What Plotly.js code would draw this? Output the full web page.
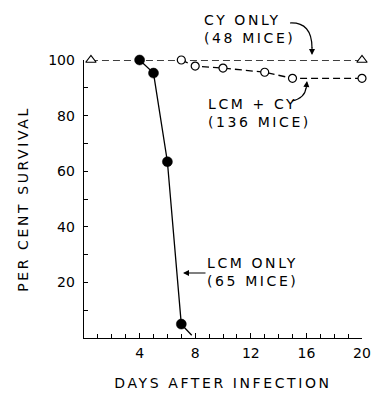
<!DOCTYPE html>
<html>
<head>
<meta charset="utf-8">
<script src="https://cdn.plot.ly/plotly-3.0.1.min.js"></script>
<style>
  html, body { margin: 0; padding: 0; background: #fff; }
  #chart { width: 373px; height: 395px; }
  .xtitle, .ytitle, .annotation-text { letter-spacing: 2.6px; }
</style>
</head>
<body>
<div id="chart"></div>
<script>
// ---- data ----
const cyOnlyDays = [0.5, 20];
const cyOnlySurvival = [100, 100];

const lcmCyDays = [7, 8, 10, 13, 15, 20];
const lcmCySurvival = [100, 97.8, 97.1, 95.6, 93.4, 93.4];

const lcmOnlyDays = [4, 5, 6, 7, 7.75];
const lcmOnlySurvival = [100, 95.3, 63.4, 5, 1];

const xTickVals = [4, 8, 12, 16, 20];
const yTickVals = [20, 40, 60, 80, 100];

const labelCy = "CY ONLY<br>(48 MICE)";
const labelLcmCy = "LCM + CY<br>(136 MICE)";
const labelLcm = "LCM ONLY<br>(65 MICE)";
const xTitle = "DAYS AFTER INFECTION";
const yTitle = "PER CENT SURVIVAL";

// ---- chart ----
const FONT = "DejaVu Sans, Arial, sans-serif";
const ink = "#000";

// paper coords helpers (plot area: left 84, right 362, top 60, bottom 338)
const L = 84, R = 362, T = 60, B = 338;
const px = v => (v - L) / (R - L);
const py = v => (B - v) / (B - T);

const traces = [
  {
    x: cyOnlyDays, y: cyOnlySurvival, type: "scatter", mode: "lines+markers",
    line: { color: ink, width: 1.3, dash: "7px,4px" },
    marker: { symbol: "triangle-up", size: 9, color: "#fff", line: { color: ink, width: 1.2 } },
    cliponaxis: false, hoverinfo: "skip"
  },
  {
    x: lcmCyDays, y: lcmCySurvival, type: "scatter", mode: "lines+markers",
    line: { color: ink, width: 1.3, dash: "7px,4px" },
    marker: { symbol: "circle", size: 8, color: "#fff", line: { color: ink, width: 1.2 } },
    cliponaxis: false, hoverinfo: "skip"
  },
  {
    x: lcmOnlyDays, y: lcmOnlySurvival, type: "scatter", mode: "lines+markers",
    line: { color: ink, width: 1.3 },
    marker: { symbol: "circle", size: [10, 10, 10, 10, 0], color: ink, opacity: 1,
              line: { color: ink, width: 0.5 } },
    cliponaxis: false, hoverinfo: "skip"
  }
];

const layout = {
  width: 373, height: 395,
  margin: { l: L, r: 373 - R, t: T, b: 395 - B, pad: 0 },
  paper_bgcolor: "#fff", plot_bgcolor: "#fff",
  showlegend: false,
  font: { family: FONT, size: 14, color: ink },
  xaxis: {
    range: [0, 20],
    showgrid: false, zeroline: false,
    showline: true, linecolor: ink, linewidth: 1.3,
    tickmode: "array", tickvals: xTickVals,
    ticks: "inside", ticklen: 5, tickwidth: 1, tickcolor: ink,
    minor: { tickmode: "linear", tick0: 0, dtick: 1, ticks: "inside", ticklen: 4, tickcolor: ink, tickwidth: 1 },
    tickfont: { family: FONT, size: 14, color: ink },
    ticklabelstandoff: 2,
    title: { text: xTitle, font: { family: FONT, size: 14, color: ink }, standoff: 18 },
    automargin: false
  },
  yaxis: {
    range: [0, 100],
    showgrid: false, zeroline: false,
    showline: true, linecolor: ink, linewidth: 1.3,
    tickmode: "array", tickvals: yTickVals,
    ticks: "inside", ticklen: 4, tickwidth: 1, tickcolor: ink,
    minor: { tickmode: "linear", tick0: 0, dtick: 10, ticks: "inside", ticklen: 4, tickcolor: ink, tickwidth: 1 },
    tickfont: { family: FONT, size: 14, color: ink },
    ticklabelstandoff: 5,
    title: { text: yTitle, font: { family: FONT, size: 14, color: ink }, standoff: 16 },
    automargin: false
  },
  shapes: [
    // curved arrow for CY ONLY
    { type: "path", xref: "paper", yref: "paper",
      path: `M ${px(290)},${py(23)} Q ${px(312)},${py(22)} ${px(312)},${py(48)}`,
      line: { color: ink, width: 1.2 } },
    // curved arrow for LCM + CY
    { type: "path", xref: "paper", yref: "paper",
      path: `M ${px(292)},${py(101)} Q ${px(305)},${py(98)} ${px(306)},${py(88)}`,
      line: { color: ink, width: 1.2 } }
  ],
  annotations: [
    { xref: "paper", yref: "paper", x: px(202), y: py(29), xanchor: "left", yanchor: "middle",
      align: "left", text: labelCy, showarrow: false, font: { family: FONT, size: 14, color: ink } },
    { xref: "paper", yref: "paper", x: px(206), y: py(113), xanchor: "left", yanchor: "middle",
      align: "left", text: labelLcmCy, showarrow: false, font: { family: FONT, size: 14, color: ink } },
    { xref: "paper", yref: "paper", x: px(205), y: py(272), xanchor: "left", yanchor: "middle",
      align: "left", text: labelLcm, showarrow: false, font: { family: FONT, size: 14, color: ink } },
    // arrowheads
    { xref: "paper", yref: "paper", x: px(312), y: py(55), ax: 0, ay: -9, text: "",
      showarrow: true, arrowhead: 2, arrowsize: 1, arrowwidth: 1.2, arrowcolor: ink },
    { xref: "paper", yref: "paper", x: px(307), y: py(81), ax: -1, ay: 9, text: "",
      showarrow: true, arrowhead: 2, arrowsize: 1, arrowwidth: 1.2, arrowcolor: ink },
    { xref: "paper", yref: "paper", x: px(183), y: py(273), ax: 24, ay: 0, text: "",
      showarrow: true, arrowhead: 2, arrowsize: 1, arrowwidth: 1.2, arrowcolor: ink }
  ]
};

Plotly.newPlot("chart", traces, layout, { staticPlot: true, displayModeBar: false });
</script>
</body>
</html>
